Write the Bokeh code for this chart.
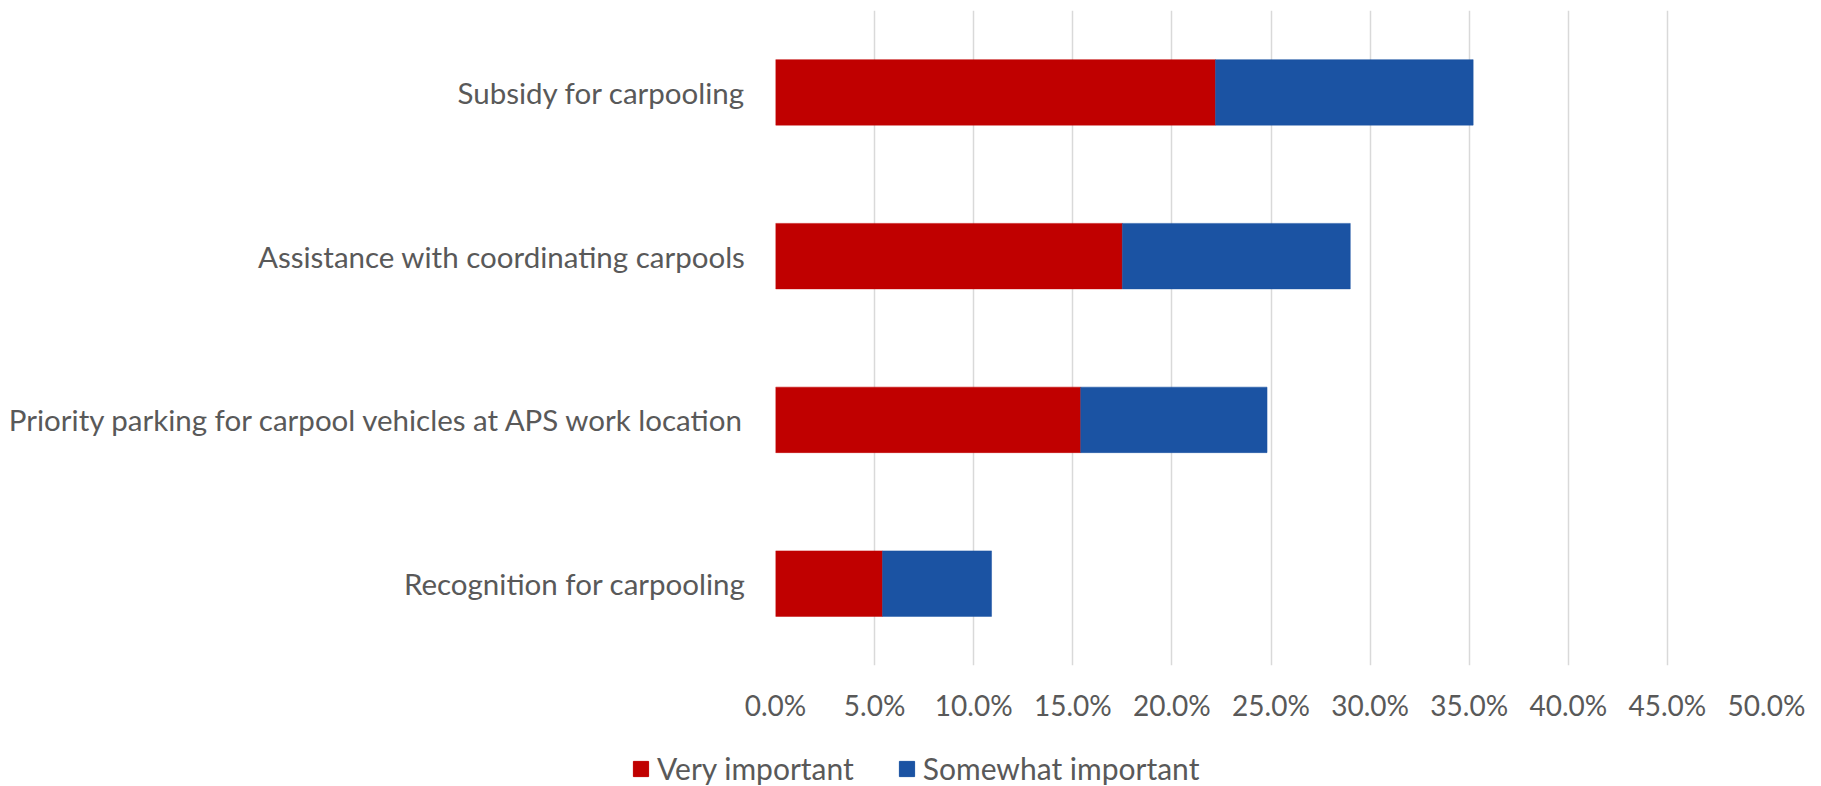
from bokeh.plotting import figure
from bokeh.models import (ColumnDataSource, FactorRange, Range1d, FixedTicker,
                          PrintfTickFormatter, Legend, LegendItem)
from bokeh.embed import file_html
from bokeh.resources import INLINE

# ---- data (percent) ----
categories = [
    "Recognition for carpooling",
    "Priority parking for carpool vehicles at APS work location",
    "Assistance with coordinating carpools",
    "Subsidy for carpooling",
]
very_important = [5.4, 15.4, 17.5, 22.2]
somewhat_important = [5.5, 9.4, 11.5, 13.0]
series_names = ["Very important", "Somewhat important"]
series_colors = ["#C00000", "#1B53A3"]
x_ticks = [0, 5, 10, 15, 20, 25, 30, 35, 40, 45, 50]

FONT = "Lato"
TEXT_COLOR = "#595959"

source = ColumnDataSource(dict(cat=categories, very=very_important, somewhat=somewhat_important))

p = figure(width=1821, height=740, output_backend="svg", toolbar_location=None,
           y_range=FactorRange(factors=categories, range_padding=0),
           x_range=Range1d(0, 50),
           min_border_left=775, min_border_right=55, min_border_top=10, min_border_bottom=75)
p.outline_line_color = None
p.background_fill_color = "white"
p.border_fill_color = "white"

rs = p.hbar_stack(["very", "somewhat"], y="cat", height=0.4, color=series_colors,
                  line_color=series_colors, line_width=0.5, source=source)

# x axis
p.xaxis.ticker = FixedTicker(ticks=x_ticks)
p.xaxis.formatter = PrintfTickFormatter(format="%.1f%%")
p.xaxis.axis_line_color = None
p.xaxis.major_tick_line_color = None
p.xaxis.major_tick_out = 0
p.xaxis.major_tick_in = 0
p.xaxis.minor_tick_line_color = None
p.xaxis.major_label_text_font = FONT
p.xaxis.major_label_text_font_size = "28px"
p.xaxis.major_label_text_color = TEXT_COLOR
p.xaxis.major_label_standoff = 22

# y axis
p.yaxis.axis_line_color = None
p.yaxis.major_tick_line_color = None
p.yaxis.major_tick_out = 0
p.yaxis.major_tick_in = 0
p.yaxis.minor_tick_line_color = None
p.yaxis.major_label_text_font = FONT
p.yaxis.major_label_text_font_size = "29.5px"
p.yaxis.major_label_text_color = TEXT_COLOR
p.yaxis.major_label_standoff = 30

# grid
p.xgrid.ticker = FixedTicker(ticks=x_ticks)
p.xgrid.grid_line_color = "#D9D9D9"
p.xgrid.grid_line_width = 1.5
p.ygrid.grid_line_color = None

# ---- legend strip (separate root below the chart) ----
lg = figure(width=1821, height=46, output_backend="svg", toolbar_location=None,
            x_axis_type=None, y_axis_type=None, x_range=Range1d(0, 1), y_range=Range1d(0, 1),
            min_border=0, min_border_left=0, min_border_right=0,
            min_border_top=0, min_border_bottom=0)
lg.outline_line_color = None
lg.xgrid.visible = False
lg.ygrid.visible = False
# swatch renderers: their data lie outside the strip's ranges, so only the legend shows them
swatch = ColumnDataSource(dict(y=[10.0], left=[10.0], right=[11.0]))
legend_renderers = [lg.hbar(y="y", left="left", right="right", height=0.4,
                            fill_color=series_colors[i], line_color=series_colors[i],
                            source=swatch) for i in range(2)]

legend = Legend(items=[LegendItem(label=series_names[i], renderers=[legend_renderers[i]])
                       for i in range(2)],
                orientation="horizontal", location=(631, 0),
                border_line_color=None, background_fill_alpha=0,
                padding=0, margin=0, spacing=43,
                glyph_width=19, glyph_height=19, label_standoff=7,
                label_text_font=FONT, label_text_font_size="30px",
                label_text_color=TEXT_COLOR)
lg.add_layout(legend, "center")

open("out.html", "w").write(file_html([p, lg], INLINE))
